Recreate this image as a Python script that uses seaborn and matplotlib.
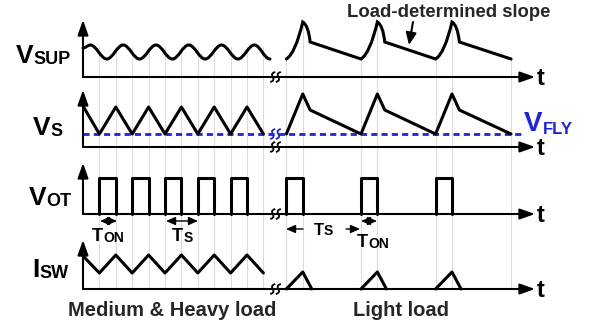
import numpy as np
import pandas as pd
import matplotlib
matplotlib.use("Agg")
import matplotlib.pyplot as plt
import seaborn as sns
from matplotlib.path import Path
from matplotlib.patches import PathPatch

sns.set_theme(style="white")
plt.rcParams['font.family'] = ['Liberation Sans', 'DejaVu Sans']

# ---------------- data ----------------
# time in switching-slot units, levels = height above each row's baseline
row_labels = [("V", "SUP"), ("V", "S"), ("V", "OT"), ("I", "SW")]

# V_SUP, medium & heavy load: ripple extremes
vsup_heavy_t = [0, 0.45, 1.45, 2.45, 3.45, 4.45, 5.45, 6.45, 7.45, 8.45, 9.45, 10.45, 11.4]
vsup_heavy_lv = [29, 32, 18, 32, 18, 32, 18, 32, 18, 32, 18, 32, 18]
# V_SUP, light load: valley -> peak -> knee -> valley ...
vsup_light_t = [12.4, 13.4, 13.85, 16.95, 17.95, 18.4, 21.5, 22.5, 22.95, 26.1]
vsup_light_lv = [18, 55, 35, 18, 55, 35, 18, 55, 35, 18]

# V_S
vs_heavy_t = [0, 1, 2, 3, 4, 5, 6, 7, 8, 9, 10, 11]
vs_heavy_lv = [41, 13, 40, 13, 40, 13, 40, 13, 40, 13, 40, 13]
vs_light_t = [12.4, 13.4, 13.85, 16.95, 17.95, 18.4, 21.5, 22.5, 22.95, 26.1]
vs_light_lv = [13, 53, 37, 13, 53, 37, 13, 53, 37, 13]
v_fly_level = 13

# V_OT pulses
vot_on_times = [1, 3, 5, 7, 9, 12.4, 16.95, 21.5]
t_on = 1.0
vot_high = 36

# I_SW
isw_heavy_t = [0, 1, 2, 3, 4, 5, 6, 7, 8, 9, 10, 11]
isw_heavy_lv = [33, 16, 34, 16, 34, 16, 34, 16, 34, 16, 34, 16]
isw_light_on = [12.4, 16.95, 21.5]
isw_light_peak = 17
isw_light_fall = 0.55

grid_t = [1, 2, 3, 4, 5, 6, 7, 8, 9, 10, 11, 12.4, 13.4, 16.95, 17.95, 21.5, 22.5, 26.1]
break_t = 11.74

# ---------------- layout helpers ----------------
W, H = 597, 322
X0, UNIT = 83, 16.4            # px position of t=0, px per slot
row_base = [77, 147, 214, 289]  # baseline (px from top)
row_top = [20, 90, 163, 240]    # y-axis arrow tip
t_end = (535 - X0) / UNIT


def px2t(px):
    return (px - X0) / UNIT


fig = plt.figure(figsize=(W / 100, H / 100), dpi=100)
ax = fig.add_axes([0, 0, 1, 1])
ax.set_xlim(px2t(0), px2t(W))
ax.set_ylim(H, 0)
ax.axis('off')

BLACK = "#000000"
BLUE = "#1a22e6"
GRID = "#dcdcdc"
WAVE_LW = 2.2
AX_LW = 1.5

# ---------------- gridlines ----------------
def vsup_level_at(t):
    if t <= 11.5:
        return 30
    return float(np.interp(t, vsup_light_t, vsup_light_lv))

for gt in grid_t:
    top = row_base[0] - vsup_level_at(gt)
    ax.plot([gt, gt], [top, row_base[3]], color=GRID, lw=0.8, zorder=0)

# ---------------- axes with arrows ----------------
for base, top in zip(row_base, row_top):
    ax.annotate("", xy=(t_end, base), xytext=(0, base),
                arrowprops=dict(arrowstyle="-|>,head_length=0.9,head_width=0.32",
                                lw=AX_LW, color=BLACK, shrinkA=0, shrinkB=0,
                                mutation_scale=10), zorder=3)
    ax.annotate("", xy=(0, top), xytext=(0, base),
                arrowprops=dict(arrowstyle="-|>,head_length=0.9,head_width=0.32",
                                lw=AX_LW, color=BLACK, shrinkA=0, shrinkB=0,
                                mutation_scale=10), zorder=3)
    ax.text(px2t(541), base + 8, "t", fontsize=17, fontweight="bold",
            ha="center", va="baseline", color=BLACK)

# ---------------- V_SUP curves (Bezier) ----------------
b0 = row_base[0]
verts = [(vsup_heavy_t[0], b0 - vsup_heavy_lv[0])]
codes = [Path.MOVETO]
for i in range(1, len(vsup_heavy_t)):
    ta, la = vsup_heavy_t[i - 1], vsup_heavy_lv[i - 1]
    tb, lb = vsup_heavy_t[i], vsup_heavy_lv[i]
    dt = tb - ta
    verts += [(ta + 0.36 * dt, b0 - la), (tb - 0.36 * dt, b0 - lb), (tb, b0 - lb)]
    codes += [Path.CURVE4] * 3
ax.add_patch(PathPatch(Path(verts, codes), fill=False, lw=WAVE_LW,
                       edgecolor=BLACK, capstyle="round", joinstyle="round"))

verts = [(vsup_light_t[0], b0 - vsup_light_lv[0])]
codes = [Path.MOVETO]
for i in range(1, len(vsup_light_t)):
    ta, la = vsup_light_t[i - 1], vsup_light_lv[i - 1]
    tb, lb = vsup_light_t[i], vsup_light_lv[i]
    phase = (i - 1) % 3
    if phase == 0:      # rising, concave up
        verts += [(ta + 0.55 * (tb - ta), b0 - (la + 0.15 * (lb - la))), (tb, b0 - lb)]
        codes += [Path.CURVE3] * 2
    elif phase == 1:    # fast drop after the peak
        verts += [(ta + 0.75 * (tb - ta), b0 - (la - 0.15 * (la - lb))), (tb, b0 - lb)]
        codes += [Path.CURVE3] * 2
    else:               # load-determined linear slope
        verts += [(tb, b0 - lb)]
        codes += [Path.LINETO]
ax.add_patch(PathPatch(Path(verts, codes), fill=False, lw=WAVE_LW,
                       edgecolor=BLACK, capstyle="round", joinstyle="miter"))

# ---------------- piecewise-linear waveforms via seaborn ----------------
pieces = []
def add_piece(name, ts, lvs, base):
    for t, lv in zip(ts, lvs):
        pieces.append(dict(piece=name, t=t, y=base - lv))

add_piece("vs_h", vs_heavy_t, vs_heavy_lv, row_base[1])
add_piece("vs_l", vs_light_t, vs_light_lv, row_base[1])
for k, on in enumerate(vot_on_times):
    add_piece(f"vot{k}", [on, on, on + t_on, on + t_on], [0, vot_high, vot_high, 0], row_base[2])
add_piece("isw_h", isw_heavy_t, isw_heavy_lv, row_base[3])
for k, on in enumerate(isw_light_on):
    add_piece(f"isw{k}", [on, on + t_on, on + t_on + isw_light_fall],
              [0, isw_light_peak, 0], row_base[3])
df = pd.DataFrame(pieces)
sns.lineplot(data=df, x="t", y="y", units="piece", estimator=None, sort=False,
             color=BLACK, lw=WAVE_LW, ax=ax, legend=False, zorder=4)

# V_FLY dashed line
fly = pd.DataFrame(dict(t=[0, px2t(523)], y=[row_base[1] - v_fly_level] * 2))
sns.lineplot(data=fly, x="t", y="y", color=BLUE, lw=2.0, ax=ax, zorder=2,
             dashes=False, linestyle=(0, (2.2, 1.5)))

ax.set_xlim(px2t(0), px2t(W))
ax.set_ylim(H, 0)
ax.axis('off')

# ---------------- break marks (two small S strokes) ----------------
def break_mark(yc, color):
    for off in (-2.8, 2.8):
        xc = X0 + break_t * UNIT + off
        pts = [(xc + 2.5, yc - 5), (xc - 6, yc - 2.5), (xc + 6, yc + 2.5), (xc - 2.5, yc + 5)]
        v = [(px2t(px), py) for px, py in pts]
        ax.add_patch(PathPatch(Path(v, [Path.MOVETO] + [Path.CURVE4] * 3), fill=False,
                               lw=1.3, edgecolor=color, zorder=5))

for base in row_base:
    break_mark(base, BLACK)
break_mark(row_base[1] - v_fly_level, BLUE)

# ---------------- text ----------------
fig.canvas.draw()

def sub_label(x_px, y_px, main, sub, size, subsize, color=BLACK):
    t = ax.text(px2t(x_px), y_px, main, fontsize=size, fontweight="bold",
                color=color, ha="left", va="baseline")
    ax.annotate(sub, xy=(1, 0), xycoords=t, fontsize=subsize, fontweight="bold",
                color=color, ha="left", va="bottom")

label_pos = [(16, 63), (33, 135), (29, 205), (32, 277)]
for (m, s), (xp, yp) in zip(row_labels, label_pos):
    sub_label(xp, yp, m, s, 19, 13)

sub_label(524, 131, "V", "FLY", 20, 12, color=BLUE)
sub_label(92, 241, "T", "ON", 13, 10)
sub_label(172, 241, "T", "S", 13, 10)
sub_label(314, 235, "T", "S", 12, 10)
sub_label(357, 247, "T", "ON", 13, 10)

def arrow(x1, y1, x2, y2, style="-|>", lw=1.0, ms=7):
    ax.annotate("", xy=(px2t(x2), y2), xytext=(px2t(x1), y1),
                arrowprops=dict(arrowstyle=f"{style},head_length=0.8,head_width=0.35",
                                lw=lw, color=BLACK, shrinkA=0, shrinkB=0,
                                mutation_scale=ms))

arrow(100, 221, 117, 221, "<|-|>")
arrow(166, 221, 198, 221, "<|-|>")
arrow(361, 221, 377, 221, "<|-|>")
arrow(303, 229, 286, 229, "-|>")
arrow(346, 229, 360, 229, "-|>")
arrow(413, 22, 409, 45, "-|>", lw=1.5, ms=9)

ax.text(px2t(449), 17, "Load-determined slope", fontsize=13.3, fontweight="bold",
        ha="center", va="baseline")
ax.text(px2t(172), 316, "Medium & Heavy load", fontsize=14.5, fontweight="bold",
        ha="center", va="baseline")
ax.text(px2t(401), 316, "Light load", fontsize=14.5, fontweight="bold",
        ha="center", va="baseline")

fig.savefig("out.png", dpi=100, facecolor="white")
